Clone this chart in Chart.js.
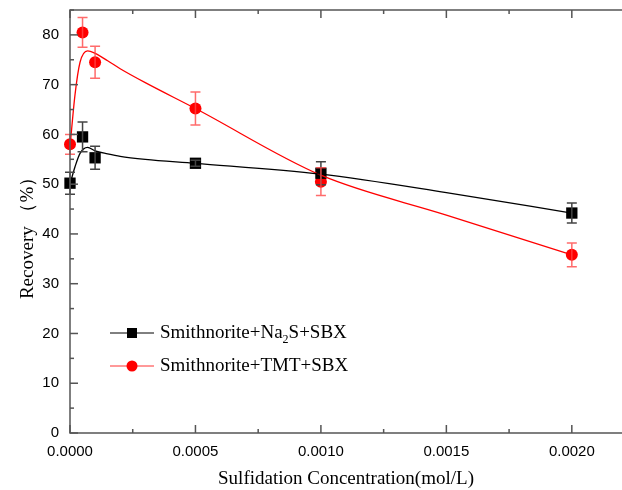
<!DOCTYPE html>
<html>
<head>
<meta charset="utf-8">
<script src="https://cdn.jsdelivr.net/npm/chart.js@4"></script>
<style>
  html, body { margin: 0; padding: 0; background: #fff; }
  #wrap { width: 622px; height: 490px; }
</style>
</head>
<body>
<div id="wrap"><canvas id="chart" width="622" height="490"></canvas></div>
<script>
// ===== Data =====
const conc = [0, 0.00005, 0.0001, 0.0005, 0.001, 0.002];

const na2sRecovery = [50.2, 59.5, 55.3, 54.2, 52.2, 44.2];
const na2sError    = [2.2, 3.0, 2.3, 0.6, 2.3, 2.0];

const tmtRecovery = [58.0, 80.5, 74.5, 65.2, 50.5, 35.8];
const tmtError    = [2.0, 3.0, 3.2, 3.3, 2.8, 2.4];

// smoothed fit curves as drawn in the figure
const fitConc = [0, 0.00002, 0.00004, 0.00007, 0.0001, 0.00015, 0.0002, 0.0003, 0.0005, 0.001, 0.0015, 0.002];
const na2sFit = [50.0, 53.5, 56.2, 57.4, 56.7, 56.1, 55.6, 55.0, 54.2, 52.0, 48.3, 44.2];
const tmtFit  = [57.5, 68.0, 74.5, 76.8, 76.3, 74.8, 73.2, 70.4, 65.2, 51.8, 43.8, 35.8];

const xTicks = [0, 0.0005, 0.001, 0.0015, 0.002];
const yTicks = [0, 10, 20, 30, 40, 50, 60, 70, 80];

const seriesNames = ["Smithnorite+Na", "2", "S+SBX"];
const seriesNames2 = "Smithnorite+TMT+SBX";

const toXY = (xs, ys) => xs.map((x, i) => ({ x: x, y: ys[i] }));

// ===== Plugins =====
const frameTicks = {
  id: "frameTicks",
  afterDraw(chart) {
    const { ctx, chartArea: a, scales } = chart;
    ctx.save();
    ctx.strokeStyle = "#555";
    ctx.lineWidth = 1.5;
    // left, bottom and top lines (right side is cut off in the figure)
    ctx.beginPath();
    ctx.moveTo(a.right + 2, a.top);
    ctx.lineTo(a.left, a.top);
    ctx.lineTo(a.left, a.bottom);
    ctx.lineTo(a.right + 2, a.bottom);
    ctx.stroke();
    // x ticks (major + minor), inward on bottom and top
    for (let v = 0; v <= 0.0022 + 1e-9; v += 0.00025) {
      const px = scales.x.getPixelForValue(v);
      const major = Math.abs(v / 0.0005 - Math.round(v / 0.0005)) < 1e-6;
      const len = major ? 8 : 4;
      ctx.beginPath();
      ctx.moveTo(px, a.bottom); ctx.lineTo(px, a.bottom - len);
      ctx.moveTo(px, a.top); ctx.lineTo(px, a.top + len);
      ctx.stroke();
    }
    for (let v = 0; v <= 85; v += 5) {
      const py = scales.y.getPixelForValue(v);
      const len = v % 10 === 0 ? 8 : 4;
      ctx.beginPath();
      ctx.moveTo(a.left, py); ctx.lineTo(a.left + len, py);
      ctx.stroke();
    }
    ctx.restore();
  }
};

const errorBars = {
  id: "errorBars",
  afterDatasetsDraw(chart) {
    const { ctx, scales } = chart;
    const sets = [
      { ys: na2sRecovery, es: na2sError, color: "#444" },
      { ys: tmtRecovery, es: tmtError, color: "rgba(255,70,70,0.8)" }
    ];
    ctx.save();
    ctx.lineWidth = 1.5;
    sets.forEach(s => {
      ctx.strokeStyle = s.color;
      conc.forEach((c, i) => {
        const px = scales.x.getPixelForValue(c);
        const top = scales.y.getPixelForValue(s.ys[i] + s.es[i]);
        const bot = scales.y.getPixelForValue(s.ys[i] - s.es[i]);
        ctx.beginPath();
        ctx.moveTo(px, top); ctx.lineTo(px, bot);
        ctx.moveTo(px - 5, top); ctx.lineTo(px + 5, top);
        ctx.moveTo(px - 5, bot); ctx.lineTo(px + 5, bot);
        ctx.stroke();
      });
    });
    ctx.restore();
  }
};

const innerLegend = {
  id: "innerLegend",
  afterDraw(chart) {
    const { ctx, chartArea: a } = chart;
    const x0 = a.left + 40, y1 = a.top + 323, y2 = a.top + 356;
    ctx.save();
    // row 1
    ctx.strokeStyle = "#000"; ctx.lineWidth = 1;
    ctx.beginPath(); ctx.moveTo(x0, y1); ctx.lineTo(x0 + 44, y1); ctx.stroke();
    ctx.fillStyle = "#000";
    ctx.fillRect(x0 + 17, y1 - 5, 10, 10);
    // row 2
    ctx.strokeStyle = "#f33";
    ctx.beginPath(); ctx.moveTo(x0, y2); ctx.lineTo(x0 + 44, y2); ctx.stroke();
    ctx.fillStyle = "#f00";
    ctx.beginPath(); ctx.arc(x0 + 22, y2, 5.5, 0, Math.PI * 2); ctx.fill();

    ctx.fillStyle = "#000";
    ctx.textBaseline = "middle";
    ctx.font = "19px 'Liberation Serif', serif";
    let tx = x0 + 50;
    ctx.fillText(seriesNames[0], tx, y1);
    tx += ctx.measureText(seriesNames[0]).width;
    ctx.font = "12px 'Liberation Serif', serif";
    ctx.fillText(seriesNames[1], tx, y1 + 7);
    tx += ctx.measureText(seriesNames[1]).width;
    ctx.font = "19px 'Liberation Serif', serif";
    ctx.fillText(seriesNames[2], tx, y1);
    ctx.fillText(seriesNames2, x0 + 50, y2);
    ctx.restore();
  }
};

// ===== Chart =====
new Chart(document.getElementById("chart"), {
  type: "scatter",
  data: {
    datasets: [
      {
        label: "Na2S fit",
        data: toXY(fitConc, na2sFit),
        showLine: true,
        borderColor: "#000",
        borderWidth: 1.3,
        pointRadius: 0,
        cubicInterpolationMode: "monotone"
      },
      {
        label: "TMT fit",
        data: toXY(fitConc, tmtFit),
        showLine: true,
        borderColor: "#f00",
        borderWidth: 1.3,
        pointRadius: 0,
        cubicInterpolationMode: "monotone"
      },
      {
        label: "Smithnorite+Na2S+SBX",
        data: toXY(conc, na2sRecovery),
        pointStyle: "rect",
        pointRadius: 8,
        backgroundColor: "#000",
        borderColor: "#000",
        borderWidth: 0
      },
      {
        label: "Smithnorite+TMT+SBX",
        data: toXY(conc, tmtRecovery),
        pointStyle: "circle",
        pointRadius: 6,
        backgroundColor: "#f00",
        borderColor: "#f00",
        borderWidth: 0
      }
    ]
  },
  options: {
    responsive: false,
    animation: false,
    clip: false,
    layout: { autoPadding: false, padding: { top: 10, right: 0, left: 0, bottom: 0 } },
    plugins: { legend: { display: false }, tooltip: { enabled: false } },
    scales: {
      x: {
        type: "linear",
        min: 0,
        max: 0.0022,
        afterBuildTicks: s => { s.ticks = xTicks.map(v => ({ value: v })); },
        afterFit: s => { s.height = 57; s.paddingLeft = 0; s.paddingRight = 0; },
        grid: { display: false, drawTicks: false },
        border: { display: false },
        ticks: {
          color: "#000",
          font: { family: "'Liberation Sans', Arial", size: 15 },
          padding: 10,
          maxRotation: 0,
          callback: v => v.toFixed(4)
        },
        title: {
          display: true,
          text: "Sulfidation Concentration(mol/L)",
          color: "#000",
          font: { family: "'Liberation Serif', serif", size: 19 },
          padding: { top: 8, bottom: 0 }
        }
      },
      y: {
        min: 0,
        max: 85,
        afterBuildTicks: s => { s.ticks = yTicks.map(v => ({ value: v })); },
        afterFit: s => { s.width = 70; s.paddingTop = 0; s.paddingBottom = 0; },
        grid: { display: false, drawTicks: false },
        border: { display: false },
        ticks: {
          color: "#000",
          font: { family: "'Liberation Sans', Arial", size: 15 },
          padding: 11
        },
        title: {
          display: true,
          text: "Recovery （%）     ",
          color: "#000",
          font: { family: "'Liberation Serif', serif", size: 19 },
          padding: { top: 17, bottom: 4 }
        }
      }
    }
  },
  plugins: [frameTicks, errorBars, innerLegend]
});
</script>
</body>
</html>
